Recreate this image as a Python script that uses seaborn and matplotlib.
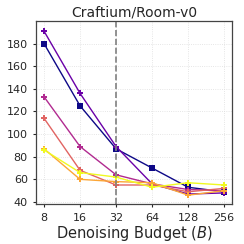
import numpy as np
import matplotlib
matplotlib.use("Agg")
import matplotlib.pyplot as plt
import pandas as pd
import seaborn as sns

budgets = [8, 16, 32, 64, 128, 256]
series_names = ["s1", "s2", "s3", "s4", "s5", "s6"]
s1 = [180, 125, 87, 70, 53, 49]
s2 = [191, 136, 89, 56, 47, 48]
s3 = [133, 89, 64, 56, 51, 50]
s4 = [114, 68, 55, 55, 49, 52]
s5 = [87, 60, 58, 57, 46, 50]
s6 = [86, 66, 62, 53, 57, 55]
markers = ["s", "P", "P", "P", "P", "P"]

sns.set_style("white")
plt.rcParams['font.family'] = ['DejaVu Sans']

rows = []
for name, vals in zip(series_names, [s1, s2, s3, s4, s5, s6]):
    for b, v in zip(budgets, vals):
        rows.append({"series": name, "budget": b, "value": v})
df = pd.DataFrame(rows)

colors = sns.color_palette("plasma", as_cmap=True)(np.linspace(0, 1, 6))

fig, ax = plt.subplots(figsize=(2.44, 2.44), dpi=100)
for i, name in enumerate(series_names):
    sub = df[df["series"] == name]
    sns.lineplot(data=sub, x="budget", y="value", color=colors[i], marker=markers[i],
                 markersize=4.5, markeredgewidth=0, linewidth=1.0, ax=ax)

ax.set_xscale("log", base=2)
ax.set_xticks(budgets)
ax.set_xticklabels([str(b) for b in budgets])
ax.minorticks_off()
ax.set_xlim(8 / 2 ** 0.22, 256 * 2 ** 0.22)
ax.set_ylim(38, 200)
ax.set_yticks([40, 60, 80, 100, 120, 140, 160, 180])
ax.axvline(32, color="gray", linestyle="--", linewidth=1.2)
ax.grid(True, linestyle=":", color="#dddddd", linewidth=0.6)
ax.tick_params(labelsize=8, length=2.5, direction="out", left=True, bottom=True)
ax.set_title("Craftium/Room-v0", fontsize=10, pad=3)
ax.set_xlabel("Denoising Budget ($B$)", fontsize=10.5, labelpad=1)
ax.set_ylabel("")
for sp in ax.spines.values():
    sp.set_color("#444444")
    sp.set_linewidth(0.9)

plt.subplots_adjust(left=0.148, right=0.951, top=0.914, bottom=0.163)
plt.savefig("out.png", dpi=100)
